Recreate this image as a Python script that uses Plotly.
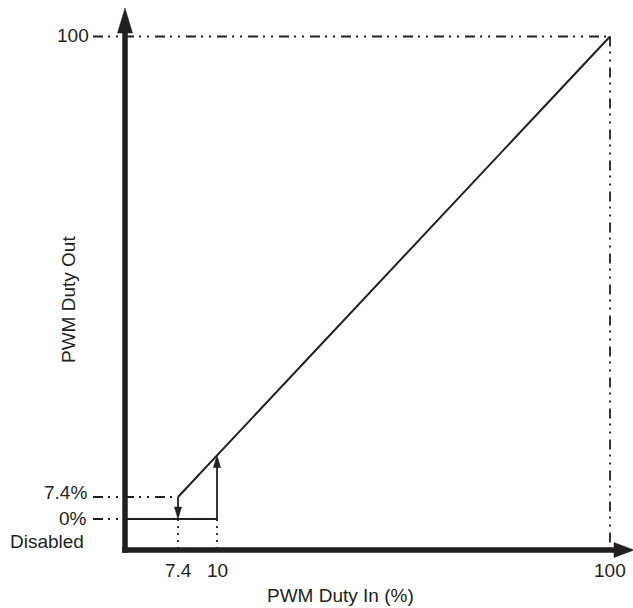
import numpy as np
import plotly.graph_objects as go

# ---------------- data ----------------
duty_in_active = [7.4, 10, 100]      # PWM Duty In (%) along the active (enabled) line
duty_out_active = [7.4, 10, 100]     # PWM Duty Out (%)
duty_in_disabled = [0, 10]           # input range where output is disabled (rising)
duty_out_disabled = [0, 0]
turn_on_threshold = 10               # rising: output jumps on at 10 %
turn_off_threshold = 7.4             # falling: output drops off at 7.4 %
full_scale = 100
x_tick_values = [7.4, 10, 100]
x_tick_labels = ["7.4", "10", "100"]
y_tick_values = [100, 7.4, 0]
y_tick_labels = ["100", "7.4%", "0%"]
disabled_label = "Disabled"
x_title = "PWM Duty In (%)"
y_title = "PWM Duty Out"

# ---------------- schematic (not-to-scale) axis mapping ----------------
X_SCALE_IN, X_SCALE_OUT = [0, 7.4, 10, 100], [0, 53, 92, 485]
Y_SCALE_IN, Y_SCALE_OUT = [0, 7.4, 10, 100], [31, 53, 94.5, 513.5]


def sx(v):
    return np.interp(v, X_SCALE_IN, X_SCALE_OUT)


def sy(v):
    return np.interp(v, Y_SCALE_IN, Y_SCALE_OUT)


INK = "#231f20"
FONT = "Arial, Liberation Sans, sans-serif"
FS = 19
LEADER_X = -32
DASHDOT = "10px,5px,2px,6px,2px,6px"
DOTTED = "2px,5px"

fig = go.Figure()


def seg(xs, ys, width=2.0, dash="solid"):
    fig.add_trace(go.Scatter(x=list(xs), y=list(ys), mode="lines",
                             line=dict(color=INK, width=width, dash=dash),
                             hoverinfo="skip", showlegend=False))


# main active line
seg(sx(duty_in_active), sy(duty_out_active), width=2.0)
# disabled (0 %) segment
seg(sx(duty_in_disabled), sy(duty_out_disabled), width=1.8)

ARROW_LEN, ARROW_HW = 12, 3.6
# falling edge: drop from line to 0 % at 7.4
xo = float(sx(turn_off_threshold))
seg([xo, xo], [float(sy(turn_off_threshold)), float(sy(0)) + ARROW_LEN - 1], width=1.8)
# rising edge: jump from 0 % to line at 10
xn = float(sx(turn_on_threshold))
seg([xn, xn], [float(sy(0)), float(sy(turn_on_threshold)) - ARROW_LEN + 1], width=1.8)

# dotted drop lines to the x axis
for v in x_tick_values[:2]:
    seg([float(sx(v))] * 2, [float(sy(0)), 0], width=1.8, dash=DOTTED)

# dash-dot leaders
seg([LEADER_X, float(sx(full_scale))], [float(sy(full_scale))] * 2, width=1.8, dash=DASHDOT)
seg([float(sx(full_scale))] * 2, [float(sy(full_scale)), 0], width=1.8, dash=DASHDOT)
seg([LEADER_X, float(sx(turn_off_threshold))], [float(sy(turn_off_threshold))] * 2, width=1.8, dash=DASHDOT)
seg([LEADER_X, 0], [float(sy(0))] * 2, width=1.8, dash=DASHDOT)

shapes = []


def tri(tipx, tipy, dx, dy, hw, length):
    # triangle with tip at (tipx, tipy) pointing in direction (dx, dy)
    bx, by = tipx - dx * length, tipy - dy * length
    px, py = -dy * hw, dx * hw
    path = f"M{tipx},{tipy} L{bx + px},{by + py} L{bx - px},{by - py} Z"
    shapes.append(dict(type="path", path=path, xref="x", yref="y",
                       fillcolor=INK, line=dict(color=INK, width=0.5)))


tri(xo, float(sy(0)), 0, -1, ARROW_HW, ARROW_LEN)
tri(xn, float(sy(turn_on_threshold)), 0, 1, ARROW_HW, ARROW_LEN)

# axes with arrows
AX_W = 5.5
shapes.append(dict(type="line", xref="x", yref="y", x0=0, y0=-AX_W / 2, x1=0, y1=520,
                   line=dict(color=INK, width=AX_W)))
shapes.append(dict(type="line", xref="x", yref="y", x0=-AX_W / 2, y0=0, x1=494, y1=0,
                   line=dict(color=INK, width=AX_W)))
tri(0, 542, 0, 1, 7.5, 25)
tri(509, 0, 1, 0, 7.5, 20)

ann = []
for v, t in zip(x_tick_values, x_tick_labels):
    ann.append(dict(x=float(sx(v)), y=-20, text=t, showarrow=False,
                    xanchor="center", yanchor="middle"))
for v, t in zip(y_tick_values, y_tick_labels):
    ann.append(dict(x=LEADER_X - (2 if v == 100 else 4), y=float(sy(v)) + (5 if v == 7.4 else 1),
                    text=t, showarrow=False, xanchor="right", yanchor="middle"))
ann.append(dict(x=LEADER_X - 7, y=9, text=disabled_label, showarrow=False,
                xanchor="right", yanchor="middle"))
ann.append(dict(x=215, y=-45, text=x_title, showarrow=False,
                xanchor="center", yanchor="middle"))
ann.append(dict(x=-57, y=250, text=y_title, showarrow=False, textangle=-90,
                xanchor="center", yanchor="middle"))
for a in ann:
    a.update(xref="x", yref="y", font=dict(family=FONT, size=FS, color=INK))

fig.update_layout(
    width=633, height=608,
    margin=dict(l=0, r=0, t=0, b=0, pad=0),
    paper_bgcolor="white", plot_bgcolor="white",
    xaxis=dict(range=[-125, 508], visible=False, fixedrange=True),
    yaxis=dict(range=[-58, 550], visible=False, fixedrange=True),
    shapes=shapes, annotations=ann, showlegend=False,
)

fig.write_html("out.html", config={"displayModeBar": False},
               post_script="document.body.style.margin='0px';")
